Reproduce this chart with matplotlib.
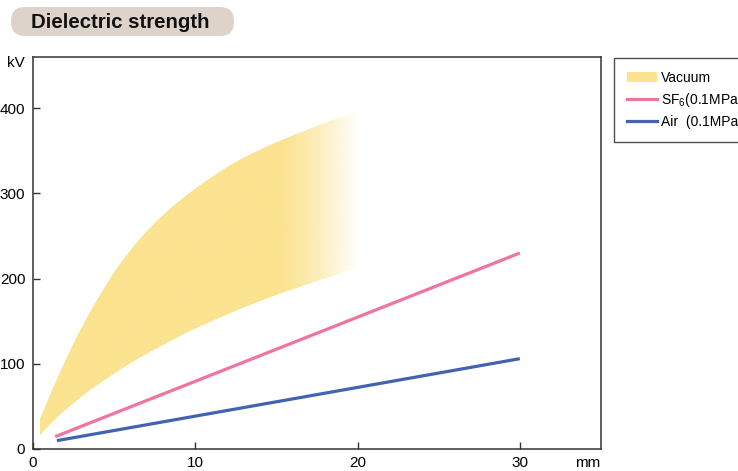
import numpy as np
import matplotlib
matplotlib.use("Agg")
import matplotlib.pyplot as plt
from matplotlib.patches import PathPatch, FancyBboxPatch, Patch
from matplotlib.path import Path
from matplotlib.lines import Line2D

plt.rcParams['font.family'] = ['Liberation Sans', 'DejaVu Sans']
plt.rcParams['mathtext.fontset'] = 'custom'
plt.rcParams['mathtext.rm'] = 'Liberation Sans'

# ---- data ----
vac_up_x = [0.43, 1.06, 1.88, 2.92, 3.95, 5.2, 6.65, 8.1, 9.96, 12.24, 14.3, 16.4, 18.45, 20.0]
vac_upper = [35, 64, 99, 140, 175, 213, 248, 276, 305, 334, 354, 371, 386, 397]
vac_lo_x = [0.43, 1.0, 1.88, 2.9, 3.95, 6.03, 8.1, 9.96, 12.24, 14.3, 16.4, 18.45, 20.0]
vac_lower = [16, 28, 44, 60, 75, 101, 123, 141, 160, 176, 190, 203, 213]
sf6_x = [1.37, 30]
sf6_y = [14.5, 230]
air_x = [1.47, 30]
air_y = [9.8, 106]
xticks = [0, 10, 20, 30]
yticks = [0, 100, 200, 300, 400]

vac_color = '#FBE390'
sf6_color = '#EE74A1'
air_color = '#4263AF'


def smooth_segments(xs, ys):
    """Catmull-Rom through the read points, as cubic Bezier control points."""
    p = np.column_stack([xs, ys]).astype(float)
    verts = []
    for i in range(len(p) - 1):
        p0 = p[i - 1] if i > 0 else p[i]
        p1, p2 = p[i], p[i + 1]
        p3 = p[i + 2] if i + 2 < len(p) else p[i + 1]
        c1 = p1 + (p2 - p0) / 6.0
        c2 = p2 - (p3 - p1) / 6.0
        verts += [c1, c2, p2]
    return p[0], verts


W, H = 738, 471
fig = plt.figure(figsize=(W / 100, H / 100), dpi=100)
ax = fig.add_axes([33 / W, 1 - 449 / H, (601 - 33) / W, (449 - 57) / H])

# vacuum band outline (smooth) used as clip path for a fading gradient
start_u, segs_u = smooth_segments(vac_up_x, vac_upper)
start_l, segs_l = smooth_segments(vac_lo_x[::-1], vac_lower[::-1])
verts = [start_u] + segs_u + [start_l] + segs_l + [start_u]
codes = ([Path.MOVETO] + [Path.CURVE4] * len(segs_u) + [Path.LINETO]
         + [Path.CURVE4] * len(segs_l) + [Path.CLOSEPOLY])
band = PathPatch(Path(verts, codes), facecolor='none', edgecolor='none',
                 transform=ax.transData)
ax.add_patch(band)

n = 400
gx = np.linspace(0, 20, n)
t = np.clip((gx - 15.2) / (20 - 15.2), 0, 1)
alpha = 1 - t ** 1.3
rgb = matplotlib.colors.to_rgb(vac_color)
img = np.zeros((1, n, 4))
img[..., 0], img[..., 1], img[..., 2] = rgb
img[0, :, 3] = alpha
im = ax.imshow(img, extent=[0, 20, 0, 460], aspect='auto', origin='lower',
               interpolation='bilinear', zorder=1)
im.set_clip_path(band)

ax.plot(sf6_x, sf6_y, color=sf6_color, lw=2.3, solid_capstyle='butt', zorder=3)
ax.plot(air_x, air_y, color=air_color, lw=2.3, solid_capstyle='butt', zorder=3)

ax.set_xlim(0, 35)
ax.set_ylim(0, 460)
ax.set_xticks(xticks)
ax.set_yticks(yticks)
ax.tick_params(direction='in', length=5, width=1, labelsize=11, color='#333333')
ax.tick_params(axis='y', pad=5.5)
ax.tick_params(axis='x', pad=5)
for s in ax.spines.values():
    s.set_linewidth(1.1)
    s.set_color('#333333')

fig.text(25 / W, 1 - 63 / H, 'kV', ha='right', va='center', fontsize=11)
fig.text(600 / W, 1 - 463 / H, 'mm', ha='right', va='center', fontsize=11)

# title badge in a pixel-coordinate overlay
ov = fig.add_axes([0, 0, 1, 1], zorder=-1)
ov.set_xlim(0, W)
ov.set_ylim(H, 0)
ov.axis('off')
ov.add_patch(FancyBboxPatch((11, 7), 223, 29,
                            boxstyle='round,pad=0,rounding_size=14',
                            facecolor='#DDD3CB', edgecolor='none'))
ov.text(31, 22, 'Dielectric strength', ha='left', va='center',
        fontsize=14.7, fontweight='bold', color='#111111')

handles = [Patch(facecolor=vac_color, edgecolor='none'),
           Line2D([], [], color=sf6_color, lw=2.3),
           Line2D([], [], color=air_color, lw=2.3)]
labels = ['Vacuum', 'SF$_6$(0.1MPa)', 'Air  (0.1MPa)']
leg = fig.legend(handles, labels, loc='upper left',
                 bbox_to_anchor=(614 / W, 1 - 58 / H), fontsize=10,
                 frameon=True, fancybox=False, edgecolor='#222222',
                 handlelength=2.2, handleheight=0.75, handletextpad=0.3,
                 labelspacing=0.45, borderpad=0.9, borderaxespad=0)
leg.get_frame().set_linewidth(1.0)

fig.savefig('out.png', dpi=100)
